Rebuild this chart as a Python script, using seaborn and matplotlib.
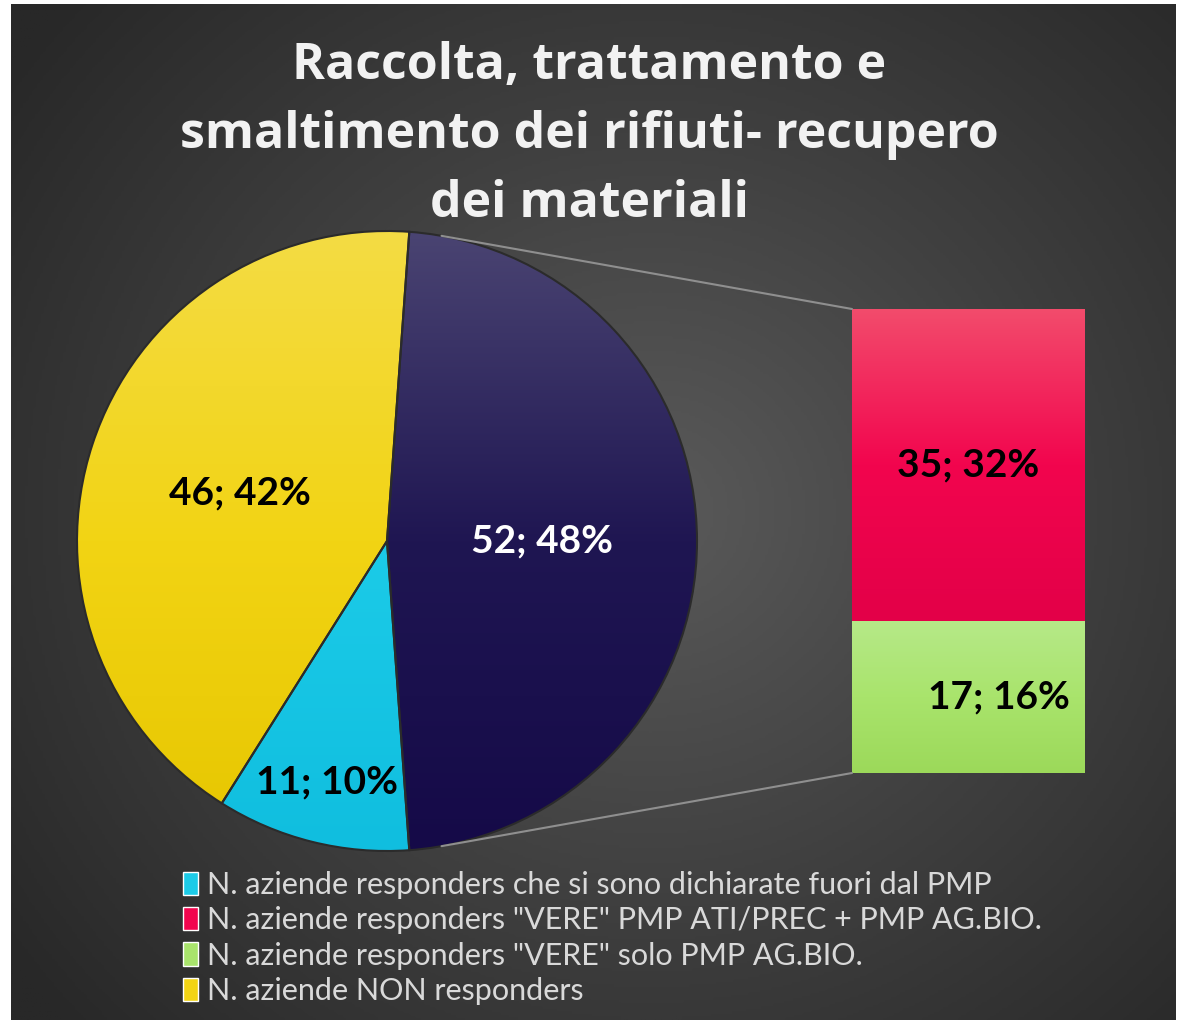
import numpy as np
import pandas as pd
import matplotlib
matplotlib.use('Agg')
import matplotlib.pyplot as plt
import seaborn as sns
from matplotlib.colors import LinearSegmentedColormap
from matplotlib.patches import Patch, ConnectionPatch

# Data
pie_names = ['Altri responders', 'Fuori dal PMP', 'NON responders']
pie_values = [52, 11, 46]
bar_names = ['VERE ATI/PREC + AG.BIO', 'VERE solo AG.BIO']
bar_values = [35, 17]
legend_labels = [
    'N. aziende responders che si sono dichiarate fuori dal PMP',
    'N. aziende responders "VERE" PMP ATI/PREC + PMP AG.BIO.',
    'N. aziende responders "VERE" solo PMP AG.BIO.',
    'N. aziende NON responders',
]
title = 'Raccolta, trattamento e\nsmaltimento dei rifiuti- recupero\ndei materiali'

# Colours (top, middle, bottom of the gradients)
navy = ['#4a4472', '#1f1652', '#150a48']
cyan = ['#55d6ee', '#1ccbe8', '#10bedf']
yellow = ['#f4dc44', '#f2d414', '#e6c600']
red = ['#f34c6c', '#f2054e', '#e30048']
green = ['#b6e988', '#a9e46c', '#9cd95a']

sns.set_style('white')
plt.rcParams['font.family'] = ['Lato', 'DejaVu Sans']

W, H = 1178, 1023
fig = plt.figure(figsize=(W / 100, H / 100), dpi=100)
fig.patch.set_facecolor('white')


def box(x0, y0, x1, y1):
    return [x0 / W, 1 - y1 / H, (x1 - x0) / W, (y1 - y0) / H]


def grad(stops):
    return LinearSegmentedColormap.from_list('g', stops)


# dark background with a soft radial light
ax_bg = fig.add_axes(box(11, 4, 1176, 1020))
yy, xx = np.mgrid[0:1:400j, 0:1:400j]
d = np.sqrt(((xx - 0.55) * 1.1) ** 2 + (yy - 0.5) ** 2)
ax_bg.imshow(np.clip(d / 0.75, 0, 1), cmap=grad(['#5a5a5a', '#404040', '#282828']),
             aspect='auto', extent=(0, 1, 0, 1), vmin=0, vmax=1)
ax_bg.axis('off')

# pie
ax_pie = fig.add_axes(box(77, 231, 697, 851))
start = 360 * pie_values[0] / sum(pie_values) / 2
wedges, _ = ax_pie.pie(pie_values, startangle=start, counterclock=False,
                       colors=[navy[1], cyan[1], yellow[1]],
                       wedgeprops=dict(edgecolor='#2b2b2b', linewidth=1.5))
vgrad = np.linspace(0, 1, 256).reshape(-1, 1)
for w, stops in zip(wedges, [navy, cyan, yellow]):
    w.set_facecolor('none')
    w.set_zorder(3)
    im = ax_pie.imshow(vgrad, cmap=grad(stops), extent=(-1, 1, -1, 1),
                       aspect='auto', zorder=2)
    im.set_clip_path(w)
ax_pie.set_xlim(-1, 1)
ax_pie.set_ylim(-1, 1)
ax_pie.axis('off')

total = sum(pie_values)
label_dist = [0.5, 0.8, 0.5]
label_cols = ['white', 'black', 'black']
for w, v, r, c in zip(wedges, pie_values, label_dist, label_cols):
    a = np.deg2rad((w.theta1 + w.theta2) / 2)
    ax_pie.text(r * np.cos(a), r * np.sin(a), f'{v}; {round(100 * v / total)}%',
                ha='center', va='center', color=c, fontsize=28,
                fontweight='bold', zorder=5)

# bar of the split slice
ax_bar = fig.add_axes(box(852, 309, 1085, 773))
sns.barplot(x=['b'], y=[sum(bar_values)], color=red[1], width=1, saturation=1,
            ax=ax_bar)
sns.barplot(x=['b'], y=[bar_values[1]], color=green[1], width=1, saturation=1,
            ax=ax_bar)
spans = [(bar_values[1], sum(bar_values)), (0, bar_values[1])]
for p, stops, (y0, y1) in zip(ax_bar.patches, [red, green], spans):
    im = ax_bar.imshow(vgrad, cmap=grad(stops), extent=(-0.5, 0.5, y0, y1),
                       aspect='auto', zorder=3)
    im.set_clip_path(p)
ax_bar.set_xlim(-0.5, 0.5)
ax_bar.set_ylim(0, sum(bar_values))
ax_bar.axis('off')

ax_bar.text(0, (spans[0][0] + spans[0][1]) / 2,
            f'{bar_values[0]}; {round(100 * bar_values[0] / total)}%',
            ha='center', va='center', fontsize=28, fontweight='bold',
            color='black', zorder=5)
ax_bar.text(0.13, spans[1][1] / 2,
            f'{bar_values[1]}; {round(100 * bar_values[1] / total)}%',
            ha='center', va='center', fontsize=28, fontweight='bold',
            color='black', zorder=5)

# connector lines
navy_w = wedges[0]
for ang, yb in [(navy_w.theta2 - 6, sum(bar_values)), (navy_w.theta1 + 6, 0)]:
    a = np.deg2rad(ang)
    con = ConnectionPatch(xyA=(np.cos(a), np.sin(a)), coordsA=ax_pie.transData,
                          xyB=(-0.5, yb), coordsB=ax_bar.transData,
                          color='#8f8f8f', lw=1.5)
    fig.add_artist(con)

# title
fig.text(0.5, 1 - 135 / H, title, ha='center', va='center', color='#f2f2f2',
         fontsize=36, fontweight='bold', linespacing=1.5,
         family=['Open Sans', 'DejaVu Sans'])

# legend
handles = [Patch(facecolor=c[1]) for c in [cyan, red, green, yellow]]
fig.legend(handles, legend_labels, loc='upper left',
           bbox_to_anchor=(183 / W, 1 - 871 / H), frameon=False,
           fontsize=22, labelcolor='#d9d9d9', handlelength=0.5,
           handleheight=0.8, handletextpad=0.3, labelspacing=0.24,
           borderpad=0, borderaxespad=0)

fig.savefig('out.png', dpi=100, facecolor='white')
